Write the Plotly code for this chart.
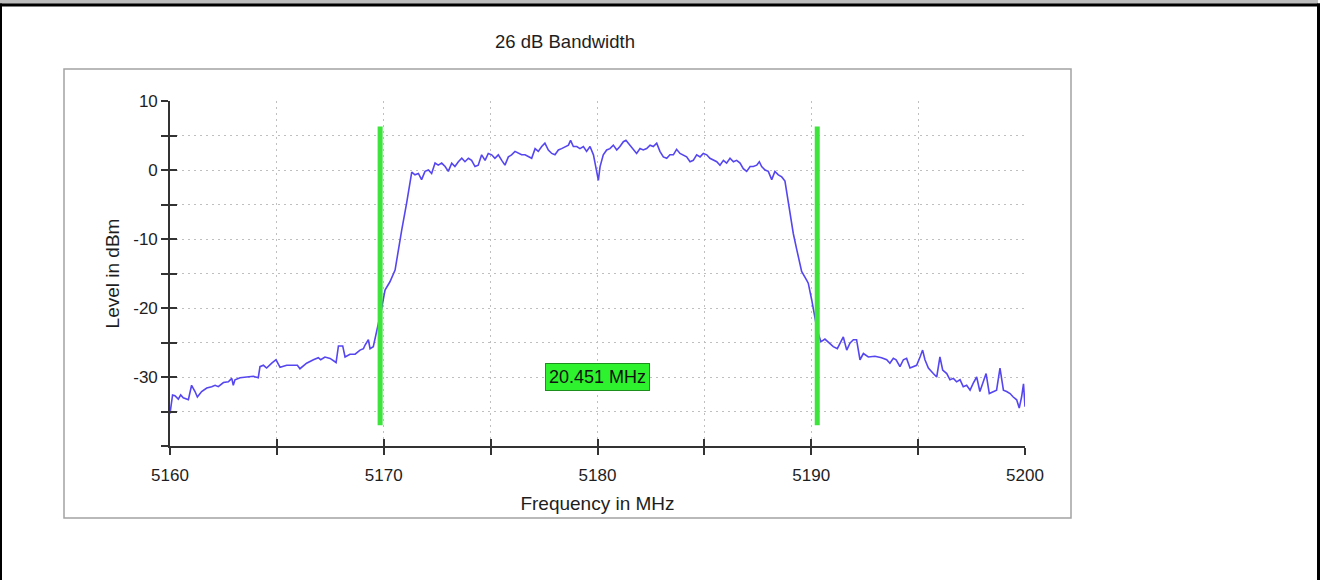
import plotly.graph_objects as go

# ---------------- data ----------------
freq_mhz = [
    5160.00, 5160.12, 5160.23, 5160.39, 5160.50, 5160.62, 5160.86, 5161.01, 5161.17, 5161.28,
    5161.48, 5161.72, 5161.95, 5162.11, 5162.26, 5162.50, 5162.73, 5162.89, 5162.96, 5163.04,
    5163.28, 5163.59, 5163.90, 5164.13, 5164.21, 5164.37, 5164.52, 5164.76, 5164.96, 5165.15,
    5165.46, 5165.77, 5165.96, 5166.08, 5166.39, 5166.71, 5166.94, 5167.05, 5167.25, 5167.49,
    5167.77, 5167.88, 5168.08, 5168.19, 5168.42, 5168.66, 5168.89, 5169.05, 5169.12, 5169.28,
    5169.36, 5169.51, 5169.64, 5169.79, 5169.90, 5170.06, 5170.29, 5170.53, 5170.68, 5170.76,
    5170.84, 5171.07, 5171.31, 5171.46, 5171.62, 5171.77, 5171.93, 5172.09, 5172.24, 5172.40,
    5172.55, 5172.71, 5172.87, 5173.02, 5173.18, 5173.33, 5173.49, 5173.65, 5173.80, 5173.96,
    5174.11, 5174.27, 5174.42, 5174.58, 5174.74, 5174.89, 5175.05, 5175.20, 5175.36, 5175.52,
    5175.67, 5175.83, 5175.98, 5176.14, 5176.30, 5176.45, 5176.61, 5176.76, 5176.92, 5177.08,
    5177.23, 5177.39, 5177.54, 5177.70, 5177.86, 5178.01, 5178.17, 5178.32, 5178.48, 5178.64,
    5178.74, 5178.87, 5179.03, 5179.18, 5179.34, 5179.49, 5179.65, 5179.81, 5179.96, 5180.04,
    5180.12, 5180.27, 5180.43, 5180.58, 5180.74, 5180.90, 5181.05, 5181.21, 5181.33, 5181.52,
    5181.68, 5181.83, 5181.99, 5182.14, 5182.30, 5182.46, 5182.61, 5182.77, 5182.92, 5183.08,
    5183.24, 5183.39, 5183.55, 5183.70, 5183.86, 5184.02, 5184.17, 5184.33, 5184.48, 5184.64,
    5184.80, 5184.95, 5185.11, 5185.26, 5185.42, 5185.58, 5185.73, 5185.89, 5186.04, 5186.20,
    5186.36, 5186.51, 5186.67, 5186.82, 5186.98, 5187.14, 5187.29, 5187.45, 5187.57, 5187.68,
    5187.84, 5187.99, 5188.15, 5188.30, 5188.46, 5188.62, 5188.77, 5188.93, 5189.08, 5189.16,
    5189.32, 5189.40, 5189.55, 5189.79, 5189.86, 5190.02, 5190.10, 5190.25, 5190.33, 5190.45,
    5190.64, 5190.88, 5191.03, 5191.22, 5191.34, 5191.50, 5191.66, 5191.81, 5191.97, 5192.12,
    5192.28, 5192.44, 5192.67, 5192.98, 5193.29, 5193.53, 5193.68, 5193.84, 5193.97, 5194.15,
    5194.31, 5194.46, 5194.62, 5194.78, 5194.93, 5195.09, 5195.21, 5195.32, 5195.48, 5195.71,
    5195.87, 5196.02, 5196.15, 5196.34, 5196.49, 5196.65, 5196.80, 5196.96, 5197.11, 5197.27,
    5197.43, 5197.58, 5197.74, 5197.89, 5198.05, 5198.18, 5198.33, 5198.52, 5198.67, 5198.83,
    5198.99, 5199.14, 5199.30, 5199.45, 5199.61, 5199.73, 5199.84, 5199.93, 5200.00,
]
level_dbm = [
    -35.3, -32.6, -32.7, -33.2, -32.6, -33.0, -33.3, -31.2, -32.1, -32.9,
    -32.1, -31.6, -31.4, -31.2, -31.4, -30.8, -30.7, -30.2, -31.2, -30.4,
    -30.1, -30.0, -29.9, -30.1, -28.5, -28.3, -28.7, -28.0, -27.5, -28.6,
    -28.3, -28.3, -28.3, -28.8, -28.0, -27.5, -27.2, -27.5, -27.1, -27.3,
    -27.9, -25.5, -25.5, -27.1, -26.7, -26.7, -26.1, -25.9, -25.4, -24.6,
    -25.9, -25.6, -23.9, -22.0, -20.1, -17.4, -16.2, -14.5, -11.6, -10.2,
    -8.7, -4.8, -0.3, -0.7, -0.5, -1.4, -0.2, 0.0, -0.5, 1.0,
    0.7, 1.0, 0.5, -0.2, 1.0, 0.5, 1.2, 1.7, 1.2, 1.7,
    1.4, 0.5, 0.7, 2.2, 1.4, 2.4, 2.2, 1.7, 2.2, 1.4,
    0.7, 1.9, 2.2, 2.7, 2.4, 2.2, 2.2, 1.9, 1.7, 3.1,
    2.7, 3.4, 3.9, 2.9, 2.4, 2.2, 2.9, 3.1, 3.4, 3.6,
    4.3, 3.4, 3.4, 3.1, 3.4, 2.7, 3.4, 2.2, -0.2, -1.5,
    0.5, 2.2, 2.9, 3.1, 3.6, 2.9, 3.4, 4.1, 4.3, 3.6,
    2.9, 2.4, 3.1, 2.9, 3.1, 3.6, 3.4, 3.9, 2.7, 1.9,
    1.7, 2.2, 2.2, 3.0, 2.4, 2.2, 1.9, 1.2, 1.4, 2.2,
    1.9, 2.4, 2.2, 1.7, 1.4, 1.2, 0.7, 1.4, 1.0, 1.7,
    1.2, 1.4, 1.0, 0.2, -0.2, 0.5, 0.5, 0.7, 1.2, 0.5,
    0.0, -0.2, -1.4, -0.2, -0.7, -1.0, -1.6, -4.8, -7.4, -9.2,
    -11.5, -12.6, -14.7, -16.0, -16.4, -18.8, -20.3, -22.7, -23.7, -24.9,
    -24.5, -25.1, -25.6, -25.9, -25.1, -24.2, -26.1, -25.1, -24.6, -24.6,
    -27.5, -26.6, -27.1, -27.0, -27.2, -27.5, -28.0, -27.3, -27.5, -28.5,
    -27.5, -27.3, -28.7, -28.5, -28.3, -27.1, -26.1, -27.5, -28.7, -29.5,
    -30.0, -27.1, -29.0, -29.5, -30.4, -30.2, -30.7, -30.4, -31.4, -31.2,
    -31.9, -30.9, -30.0, -32.1, -30.7, -29.5, -32.4, -32.1, -31.9, -28.7,
    -31.9, -32.1, -32.4, -32.9, -33.3, -34.5, -32.9, -31.0, -34.3,
]

marker_freqs = [5169.83, 5190.28]     # 26 dB bandwidth markers
marker_span = [-37.0, 6.3]            # vertical extent of marker lines (dBm)
bandwidth_label = "20.451 MHz"
label_pos = (5180.0, -30.0)

x_ticks = [5160, 5165, 5170, 5175, 5180, 5185, 5190, 5195, 5200]
x_ticktext = ["5160", "", "5170", "", "5180", "", "5190", "", "5200"]
y_ticks = [10, 5, 0, -5, -10, -15, -20, -25, -30, -35, -40]
y_ticktext = ["10", "", "0", "", "-10", "", "-20", "", "-30", "", ""]

# ---------------- figure ----------------
FONT = "Liberation Sans, Arial, sans-serif"
AXC = "#333333"
TXT = "#1e1e1e"

fig = go.Figure()
fig.add_trace(go.Scatter(x=freq_mhz, y=level_dbm, mode="lines",
                         line=dict(color="#5546f0", width=1.6),
                         showlegend=False, hoverinfo="skip"))
for mf in marker_freqs:
    fig.add_trace(go.Scatter(x=[mf, mf], y=marker_span, mode="lines",
                             line=dict(color="#3ce43c", width=5),
                             showlegend=False, hoverinfo="skip"))
# invisible trace to keep overlay axes drawn
fig.add_trace(go.Scatter(x=[x_ticks[0]], y=[y_ticks[0]], xaxis="x2", yaxis="y2",
                         mode="markers", marker=dict(opacity=0), showlegend=False,
                         hoverinfo="skip"))

fig.add_annotation(x=label_pos[0], y=label_pos[1], text=bandwidth_label,
                   showarrow=False, font=dict(family=FONT, size=18, color="#111"),
                   bgcolor="#2ef22e", bordercolor="#1c8f1c", borderwidth=1, borderpad=3)

common_x = dict(range=[5160, 5200], tickvals=x_ticks, ticktext=x_ticktext,
                showline=True, linecolor=AXC, linewidth=1.6, tickcolor=AXC,
                tickwidth=1.6, ticklen=7, zeroline=False)
common_y = dict(range=[-40, 10], tickvals=y_ticks, ticktext=y_ticktext,
                showline=True, linecolor=AXC, linewidth=1.6, tickcolor=AXC,
                tickwidth=1.6, ticklen=7, zeroline=False)

GRID = dict(showgrid=True, gridcolor="#bfbfbf", griddash="2px,4px", gridwidth=1)

fig.update_layout(
    width=1327, height=580,
    margin=dict(l=170, r=302, t=101, b=134),
    paper_bgcolor="white", plot_bgcolor="white",
    font=dict(family=FONT, size=17, color=TXT),
    title=dict(text="26 dB Bandwidth", x=565 / 1327, xanchor="center",
               y=1 - 42 / 580, yanchor="middle", font=dict(size=18.5, color=TXT)),
    xaxis=dict(**common_x, **GRID, ticks="outside", ticklabelstandoff=6,
               tickfont=dict(size=17, color=TXT),
               title=dict(text="Frequency in MHz", font=dict(size=19, color=TXT),
                          standoff=12)),
    yaxis=dict(**common_y, **GRID, ticks="outside",
               tickfont=dict(size=17, color=TXT),
               title=dict(text="Level in dBm", font=dict(size=19, color=TXT),
                          standoff=9)),
    xaxis2=dict(**common_x, overlaying="x", anchor="y2", side="bottom", ticks="inside",
                showgrid=False, showticklabels=False),
    yaxis2=dict(**common_y, overlaying="y", anchor="x2", side="left", ticks="inside",
                showgrid=False, showticklabels=False),
)

# page decoration (paper coordinates derived from the margins)
W, H = 1327, 580
L, T, PW, PH = 170, 101, 855, 345


def px(x):
    return (x - L) / PW


def py(y):
    return (T + PH - y) / PH


shapes = [
    dict(type="rect", xref="paper", yref="paper", x0=px(64), x1=px(1071), y0=py(518), y1=py(69),
         line=dict(color="#a3a3a3", width=1.5), fillcolor="rgba(0,0,0,0)", layer="below"),
    dict(type="rect", xref="paper", yref="paper", x0=px(0), x1=px(1318), y0=py(4), y1=py(0),
         line=dict(width=0), fillcolor="#bdbdbd"),
    dict(type="rect", xref="paper", yref="paper", x0=px(0), x1=px(1320), y0=py(6.5), y1=py(3.5),
         line=dict(width=0), fillcolor="#000"),
    dict(type="rect", xref="paper", yref="paper", x0=px(0), x1=px(2), y0=py(580), y1=py(3.5),
         line=dict(width=0), fillcolor="#000"),
    dict(type="rect", xref="paper", yref="paper", x0=px(1317), x1=px(1320), y0=py(580), y1=py(3.5),
         line=dict(width=0), fillcolor="#000"),
]
fig.update_layout(shapes=shapes)

fig.write_html("out.html", config={"displayModeBar": False},
               post_script="document.body.style.margin='0px';document.body.style.overflow='hidden';")
